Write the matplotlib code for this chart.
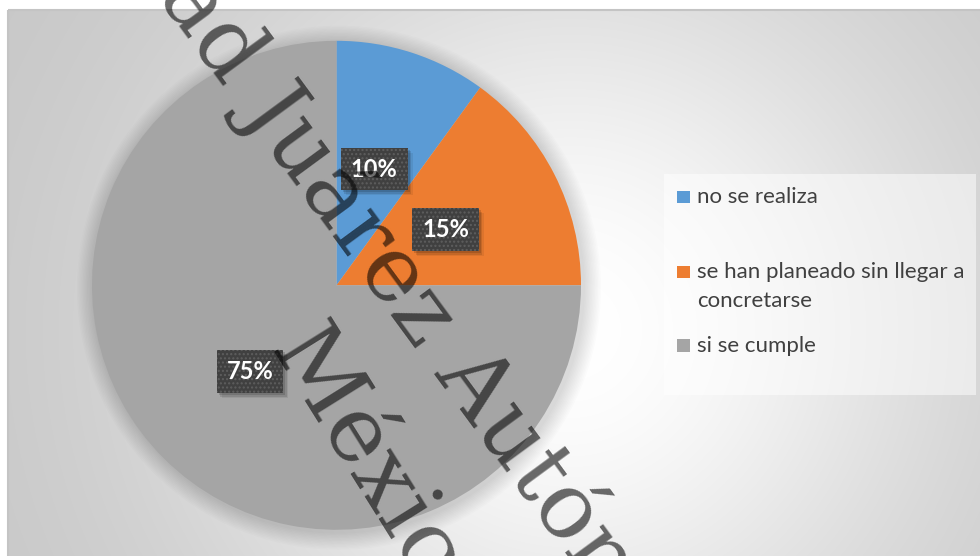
import numpy as np
import matplotlib
matplotlib.use('Agg')
import matplotlib.pyplot as plt
from matplotlib.patches import Rectangle, Circle
import matplotlib.transforms as mtransforms

categories = ['no se realiza', 'se han planeado sin llegar a\nconcretarse', 'si se cumple']
values = [10, 15, 75]
pct_labels = ['10%', '15%', '75%']
colors = ['#5B9BD5', '#ED7D31', '#A5A5A5']
watermark = ['ad Juárez Autónoma de Tabasco', 'México']

W, H = 980, 556
fig = plt.figure(figsize=(W / 100, H / 100), dpi=100)

# ---- background (chart area gradient) ----
bg = fig.add_axes([0, 0, 1, 1])
bg.set_xlim(0, W)
bg.set_ylim(H, 0)
bg.axis('off')
yy, xx = np.mgrid[0:H, 0:W] + 0.5
d = np.hypot(xx - 570, yy - 330)
v = 0.775 + 0.225 * np.exp(-(d / 380.0) ** 2)
img = np.dstack([v, v, v])
img[(xx < 8) | (yy < 10)] = 1.0
bg.imshow(img, extent=(0, W, H, 0), interpolation='bilinear', aspect='auto', zorder=0)
bg.plot([8, 8], [10, H], color='#c4c4c4', lw=1.5, zorder=1, solid_capstyle='butt')
bg.plot([8, W], [10, 10], color='#c4c4c4', lw=1.5, zorder=1, solid_capstyle='butt')

# ---- legend (manual, Excel-like) ----
bg.add_patch(Rectangle((664, 174), 312, 221, facecolor='white', alpha=0.5,
                       edgecolor='none', zorder=2))
baselines = [203.3, 278.3, 351.7]
for cat, col, base in zip(categories, colors, baselines):
    bg.add_patch(Rectangle((677, base - 12.5), 13, 12.5, facecolor=col,
                           edgecolor='none', zorder=3))
    for i, line in enumerate(cat.split('\n')):
        bg.text(697, base + i * 28.4, line, fontsize=16, family='Lato',
                color='#404040', ha='left', va='baseline', zorder=3)

# ---- pie ----
cx, cy, R = 336.5, 285.3, 244.5
ax = fig.add_axes([(cx - R) / W, (H - cy - R) / H, 2 * R / W, 2 * R / H])
for k in range(12):
    ax.add_patch(Circle((0.01, -0.01), 1.0 + 0.006 * (k + 1), facecolor='black',
                        alpha=0.012, edgecolor='none', zorder=0, clip_on=False))
wedges, _ = ax.pie(values, colors=colors, startangle=90, counterclock=False,
                   radius=1.0, wedgeprops=dict(linewidth=0))
for w in wedges:
    w.set_zorder(2)
ax.set_xlim(-1, 1)
ax.set_ylim(-1, 1)
ax.set_aspect('equal')
ax.axis('off')

label_texts = []
for w, lab in zip(wedges, pct_labels):
    ang = np.deg2rad((w.theta1 + w.theta2) / 2)
    px, py = 0.5 * np.cos(ang), 0.5 * np.sin(ang)
    t = ax.text(px, py, lab, fontsize=17, family='Lato', weight='bold', color='white',
                ha='center', va='center', zorder=5,
                bbox=dict(boxstyle='square,pad=0.42', facecolor='#404040',
                          edgecolor='#5e5e5e', linewidth=0, hatch='....'))
    label_texts.append(t)

# soft shadows behind label boxes (from the rendered box extents)
fig.canvas.draw()
ident = mtransforms.IdentityTransform()
for t in label_texts:
    bb = t.get_bbox_patch().get_window_extent()
    for off, a in [(2, 0.14), (3.5, 0.11), (5, 0.07)]:
        ax.add_patch(Rectangle((bb.x0 + off, bb.y0 - off), bb.width, bb.height,
                               transform=ident, facecolor='black', alpha=a,
                               edgecolor='none', zorder=4, clip_on=False))

# ---- watermark (overlay) ----
wm = fig.add_axes([0, 0, 1, 1], facecolor='none')
wm.set_xlim(0, W)
wm.set_ylim(H, 0)
wm.axis('off')
wm.text(156, -3, watermark[0], fontsize=66, family='DejaVu Serif', color='black',
        alpha=0.58, rotation=-53.7, rotation_mode='anchor', ha='left', va='baseline')
wm.text(268, 350, watermark[1], fontsize=66, family='DejaVu Serif', color='black',
        alpha=0.58, rotation=-58, rotation_mode='anchor', ha='left', va='baseline')

fig.savefig('out.png', dpi=100)
